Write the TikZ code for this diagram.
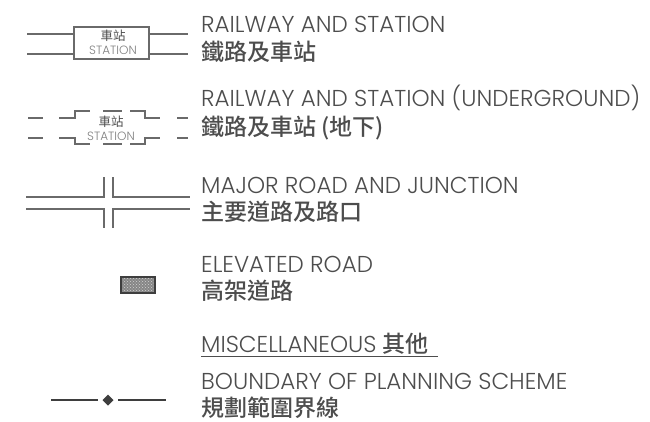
\documentclass[tikz,border=0pt]{standalone}
\usepackage{fontspec}
\usetikzlibrary{patterns}
\setmainfont{Poppins}[UprightFont=* Light]
\newfontfamily\cjk{Noto Sans CJK TC Medium}
\newfontfamily\cjkr{Noto Sans CJK TC}
\definecolor{txt}{HTML}{4D4D4D}
\definecolor{ln}{HTML}{6A6A6A}
\definecolor{dk}{HTML}{3E3E3E}
\begin{document}
\begin{tikzpicture}[x=1pt,y=-1pt,
  en/.style={anchor=base west,inner sep=0,text=txt,font=\fontsize{23}{23}\selectfont},
  zh/.style={anchor=base west,inner sep=0,text=txt,font=\cjk\fontsize{23}{23}\selectfont},
  rail/.style={draw=ln,line width=1.2pt},
  road/.style={draw=ln,line width=1.8pt},
  stz/.style={inner sep=0,text=txt,font=\cjkr\fontsize{12.5}{12.5}\selectfont},
  ste/.style={inner sep=0,text=gray,font=\fontsize{12}{12}\selectfont}]
\useasboundingbox (0,0) rectangle (650,421);
% Railway and station
\coordinate (r1a) at (27,34); \coordinate (r1b) at (74,34);
\coordinate (r1c) at (149,34); \coordinate (r1d) at (188,34);
\coordinate (r2a) at (27,54); \coordinate (r2b) at (74,54);
\coordinate (r2c) at (149,54); \coordinate (r2d) at (188,54);
\draw[rail] (r1a) -- (r1b) (r1c) -- (r1d) (r2a) -- (r2b) (r2c) -- (r2d);
\draw[rail] (74,27) rectangle (149,59);
\node[stz] (s1z) at (113,36) {車站};
\node[ste] (s1e) at (113,50) {STATION};
\node[en] (t1) at (201,32) {RAILWAY AND STATION};
\node[zh] (t1z) at (201,60) {鐵路及車站};
% Underground
\draw[rail] (28,118) -- (43,118) (59,118) -- (75,118) -- (75,111) -- (90,111)
  (103,111) -- (122,111) (130,111) -- (145,111) -- (145,118) -- (160,118) (177,118) -- (188,118);
\draw[rail] (28,138) -- (43,138) (59,138) -- (75,138) -- (75,144) -- (90,144)
  (103,144) -- (122,144) (130,144) -- (145,144) -- (145,138) -- (160,138) (177,138) -- (188,138);
\node[stz] (s2z) at (111,122) {車站};
\node[ste] (s2e) at (111,136) {STATION};
\node[en] (t2) at (201,106) {RAILWAY AND STATION (UNDERGROUND)};
\node[zh] (t2z) at (201,135) {鐵路及車站 (地下)};
% Major road and junction
\draw[road] (26,197) -- (104,197) -- (104,177);
\draw[road] (113,177) -- (113,197) -- (190,197);
\draw[road] (26,209) -- (104,209) -- (104,228);
\draw[road] (113,228) -- (113,209) -- (190,209);
\node[en] (t3) at (201,193) {MAJOR ROAD AND JUNCTION};
\node[zh] (t3z) at (201,220) {主要道路及路口};
% Elevated road
\fill[gray!95!white] (121,277) rectangle (155,293);
\fill[pattern=crosshatch dots, pattern color=gray!35] (121,277) rectangle (155,293);
\draw[dk,line width=1.4pt] (121,277) rectangle (155,293);
\node[en] (t4) at (201,272) {ELEVATED ROAD};
\node[zh] (t4z) at (201,299) {高架道路};
% Miscellaneous
\node[en] (t5) at (201,352) {MISCELLANEOUS {\cjk 其他}};
\draw[txt,line width=0.8pt] (201,356) -- (438,356);
\node[en] (t6) at (201,389.5) {BOUNDARY OF PLANNING SCHEME};
\node[zh] (t6z) at (201,416.5) {規劃範圍界線};
\coordinate (b1) at (51,400); \coordinate (b2) at (98,400);
\coordinate (b3) at (118,400); \coordinate (b4) at (166,400);
\draw[dk,line width=2pt] (b1) -- (b2) (b3) -- (b4);
\fill[dk] (108,394.5) -- (113.5,400) -- (108,405.5) -- (102.5,400) -- cycle;
\end{tikzpicture}
\end{document}
